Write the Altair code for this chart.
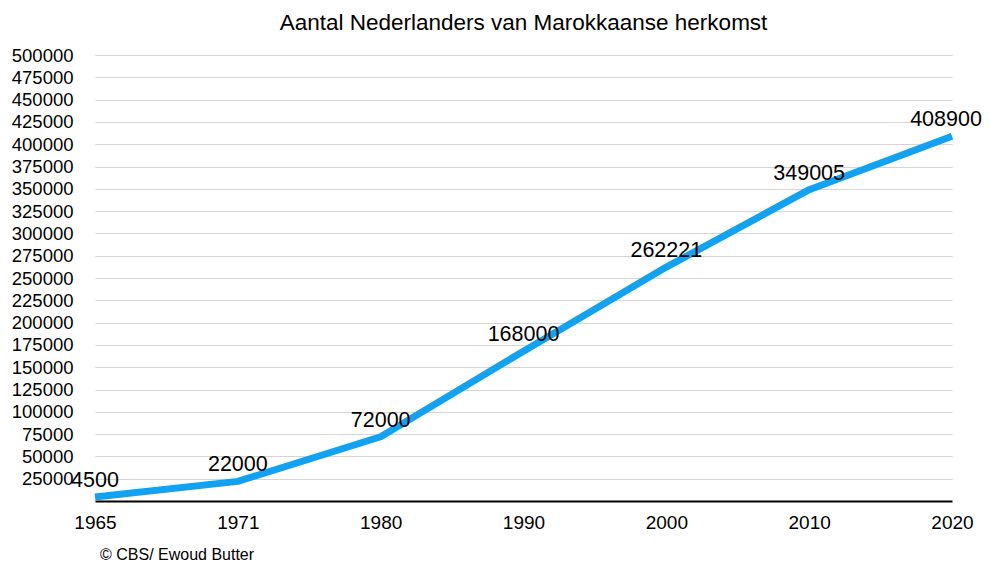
import altair as alt
import pandas as pd

years = ["1965", "1971", "1980", "1990", "2000", "2010", "2020"]
values = [4500, 22000, 72000, 168000, 262221, 349005, 408900]
title_text = "Aantal Nederlanders van Marokkaanse herkomst"
credit_text = "© CBS/ Ewoud Butter"

df = pd.DataFrame({"jaar": years, "aantal": values})
FONT = "Liberation Sans"

x_enc = alt.X("jaar:O", sort=None, title=None,
              scale=alt.Scale(padding=0),
              axis=alt.Axis(labelAngle=0, labelFontSize=19, labelFont=FONT, labelColor="black",
                            ticks=False, domain=True, domainColor="black", domainWidth=2,
                            labelPadding=12, grid=False, labelOverlap=False))
y_enc = alt.Y("aantal:Q", title=None,
              scale=alt.Scale(domain=[0, 500000], nice=False),
              axis=alt.Axis(values=list(range(0, 500001, 25000)), format="d",
                            labelExpr="datum.value == 0 ? '' : datum.label",
                            labelFontSize=18.5, labelFont=FONT, labelColor="black",
                            ticks=False, domain=False, labelPadding=22, labelOverlap=False,
                            labelBound=False,
                            grid=True, gridColor="#d4d4d4", gridWidth=1))

base = alt.Chart(df)
line = base.mark_line(color="#12a2f2", strokeWidth=7, strokeJoin="round").encode(x=x_enc, y=y_enc)
labels = base.mark_text(font=FONT, fontSize=21.5, color="black", baseline="middle", dy=-16).encode(
    x=x_enc, y=y_enc, text="aantal:Q").transform_filter("datum.jaar != '2020'")
last_label = base.mark_text(font=FONT, fontSize=21.5, color="black", baseline="middle",
                            dy=-16, dx=-6).encode(
    x=x_enc, y=y_enc, text="aantal:Q").transform_filter("datum.jaar == '2020'")
credit = alt.Chart(pd.DataFrame({"t": [credit_text]})).mark_text(
    font=FONT, fontSize=16, color="black", align="left", baseline="alphabetic").encode(
    x=alt.value(5), y=alt.value(505), text="t:N")

chart = alt.layer(line, labels, last_label, credit).properties(
    width=857, height=446,
    title=alt.TitleParams(title_text, font=FONT, fontSize=22.5, fontWeight="normal", color="black",
                          anchor="middle", offset=12),
    autosize=alt.AutoSizeParams(type="none"),
    padding={"left": 87, "top": 47, "right": 30, "bottom": 64},
).configure_view(stroke=None)

chart.save("out.html", embed_options={"renderer": "svg", "actions": False})
